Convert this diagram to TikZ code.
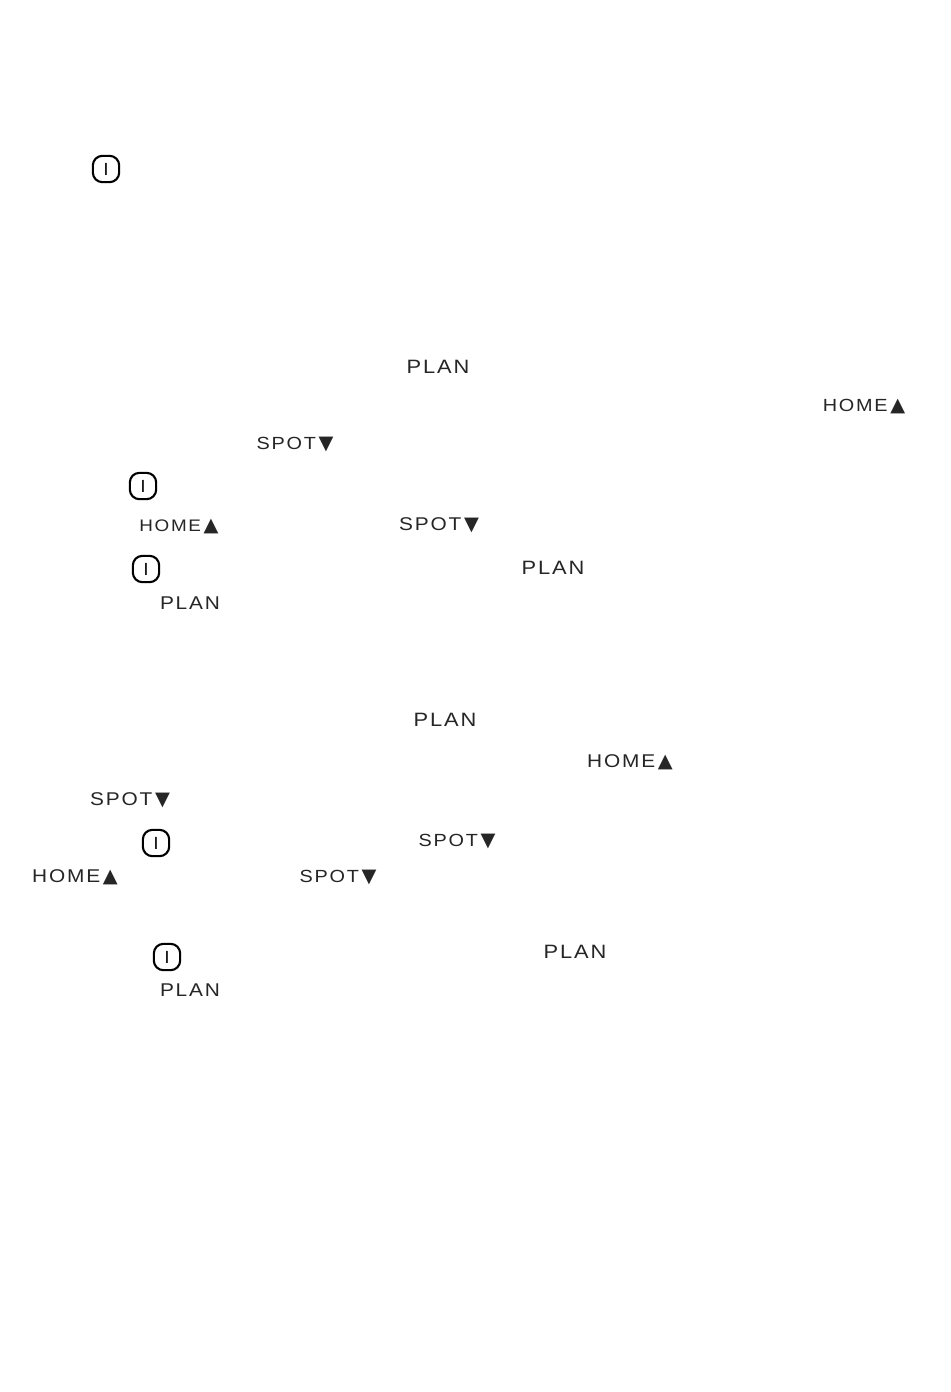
\documentclass[tikz,border=0pt]{standalone}
\usepackage{fontspec}
\setmainfont{Liberation Sans}
\newfontfamily\lcdfont[LetterSpace=10,FakeStretch=1.13]{Liberation Sans}
\newfontfamily\symfont{DejaVu Sans}
\usetikzlibrary{positioning}
\tikzset{
    lcdkey/.style={inner sep=0pt, text=black!85, font=\fontsize{#1}{#1}\selectfont\lcdfont},
    powerkey/.style={draw, line width=1.2pt, rounded corners=5.5pt, minimum size=15pt, inner sep=0pt, font=\fontsize{10}{10}\selectfont},
}
\newcommand{\upmark}{\hspace{1.5pt}{\symfont\fontsize{11}{11}\selectfont ▲}}
\newcommand{\downmark}{\hspace{1.5pt}{\symfont\fontsize{11}{11}\selectfont ▼}}
\begin{document}
\begin{tikzpicture}[x=0.02cm, y=-0.02cm]
    \useasboundingbox [fill=white] (0,0) rectangle (950,1392);
    % Power keys
    \node (powerA) [powerkey] at (106,169) {I};
    \node (powerB) [powerkey] at (143,486) {I};
    \node (powerC) [powerkey] at (146,569) {I};
    \node (powerD) [powerkey] at (156,843) {I};
    \node (powerE) [powerkey] at (167,957) {I};
    % PLAN keys
    \node (planA) [lcdkey=11] at (438,367) {PLAN};
    \node (planB) [lcdkey=11] at (553,568) {PLAN};
    \node (planC) [lcdkey=10.5] at (190,603) {PLAN};
    \node (planD) [lcdkey=11] at (445,720) {PLAN};
    \node (planE) [lcdkey=11] at (575,952) {PLAN};
    \node (planF) [lcdkey=10.5] at (190,990) {PLAN};
    % HOME keys
    \node (homeA) [lcdkey=10] at (864,406) {HOME\upmark};
    \node (homeB) [lcdkey=9.5] at (179,526) {HOME\upmark};
    \node (homeC) [lcdkey=10.5] at (630,762) {HOME\upmark};
    \node (homeD) [lcdkey=10.5] at (75,877) {HOME\upmark};
    % SPOT keys
    \node (spotA) [lcdkey=10] at (295,444) {SPOT\downmark};
    \node (spotB) [lcdkey=10.5] at (439,525) {SPOT\downmark};
    \node (spotC) [lcdkey=10.5] at (130,800) {SPOT\downmark};
    \node (spotD) [lcdkey=10] at (457,841) {SPOT\downmark};
    \node (spotE) [lcdkey=10] at (338,877) {SPOT\downmark};
\end{tikzpicture}
\end{document}
